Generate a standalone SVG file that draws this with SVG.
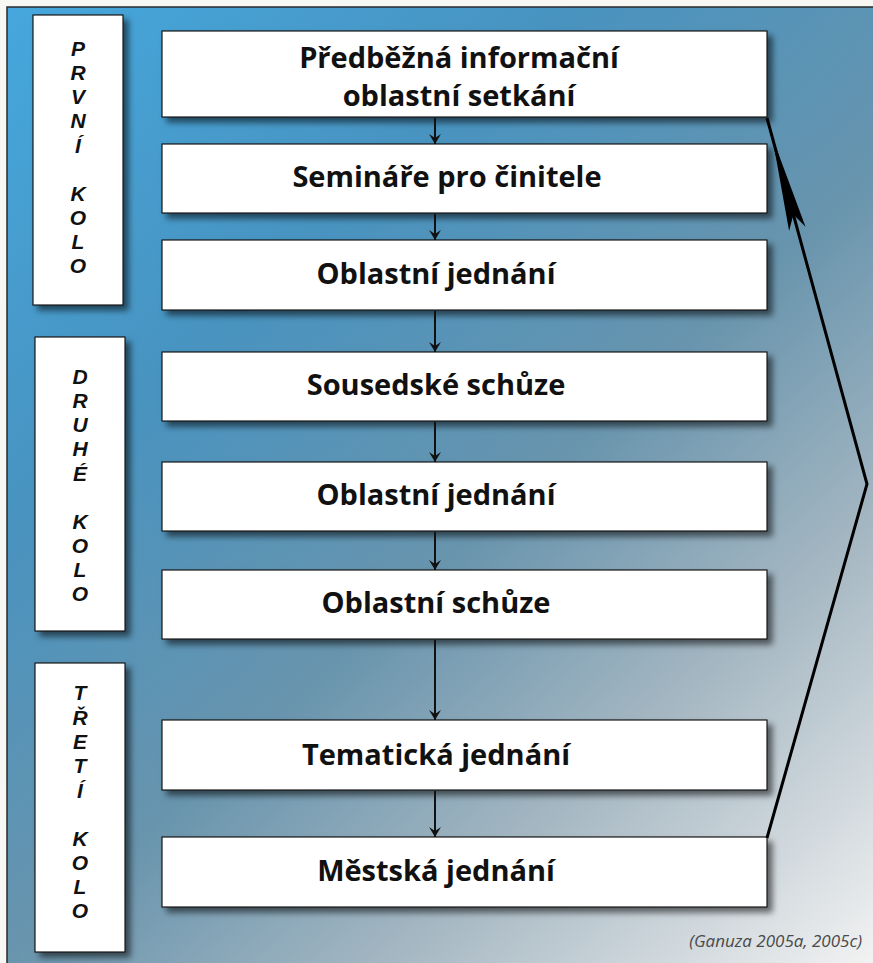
<svg xmlns="http://www.w3.org/2000/svg" width="873" height="963" viewBox="0 0 873 963">
  <defs>
    <linearGradient id="bg" gradientUnits="userSpaceOnUse" x1="0" y1="0" x2="873" y2="963">
      <stop offset="0" stop-color="#45a8de"/>
      <stop offset="0.3" stop-color="#4893c0"/>
      <stop offset="0.55" stop-color="#6894ad"/>
      <stop offset="0.75" stop-color="#a5b7c2"/>
      <stop offset="1" stop-color="#f2f2f2"/>
    </linearGradient>
    <filter id="shadow" x="-10%" y="-10%" width="130%" height="140%">
      <feDropShadow dx="5" dy="5" stdDeviation="3" flood-color="#000" flood-opacity="0.55"/>
    </filter>
    <marker id="arrv" markerUnits="userSpaceOnUse" markerWidth="12" markerHeight="14" refX="11" refY="7" orient="auto" viewBox="0 0 12 14">
      <path d="M1,1 L11,7 L1,13 L5,7 Z" fill="#111"/>
    </marker>
  </defs>
  <style>
    .box { fill: #ffffff; stroke: #1a1a1a; stroke-width: 1.2; filter: url(#shadow); }
    .main { font-family: "Open Sans", "Noto Sans", "DejaVu Sans", sans-serif; font-weight: bold; font-size: 29px; fill: #111; text-anchor: middle; }
    .side { font-family: "Liberation Sans", Arial, sans-serif; font-weight: bold; font-style: italic; font-size: 21px; fill: #111; text-anchor: middle; }
    .cite { font-family: "Open Sans", "Noto Sans", sans-serif; font-style: italic; font-size: 17px; fill: #4a4a4a; text-anchor: end; }
    .flow { stroke: #111; stroke-width: 2; fill: none; }
    .loop { stroke: #000; stroke-width: 3; fill: none; stroke-linejoin: miter; }
  </style>

  <rect x="0" y="0" width="873" height="963" fill="#f7f7f4"/>
  <rect id="frame" x="7" y="7" width="880" height="970" fill="url(#bg)" stroke="#2a2a2a" stroke-width="1.5"/>

  <g id="round1">
    <rect class="box" x="33" y="15" width="90" height="290"/>
    <text class="side" x="78" y="56">P</text>
    <text class="side" x="78" y="80">R</text>
    <text class="side" x="78" y="104">V</text>
    <text class="side" x="78" y="128">N</text>
    <text class="side" x="78" y="153">Í</text>
    <text class="side" x="78" y="201">K</text>
    <text class="side" x="78" y="225">O</text>
    <text class="side" x="78" y="249">L</text>
    <text class="side" x="78" y="273">O</text>
  </g>
  <g id="round2">
    <rect class="box" x="35" y="337" width="90" height="294"/>
    <text class="side" x="80" y="384">D</text>
    <text class="side" x="80" y="408">R</text>
    <text class="side" x="80" y="432">U</text>
    <text class="side" x="80" y="456">H</text>
    <text class="side" x="80" y="481">É</text>
    <text class="side" x="80" y="529">K</text>
    <text class="side" x="80" y="553">O</text>
    <text class="side" x="80" y="577">L</text>
    <text class="side" x="80" y="601">O</text>
  </g>
  <g id="round3">
    <rect class="box" x="35" y="663" width="90" height="289"/>
    <text class="side" x="80" y="700">T</text>
    <text class="side" x="80" y="725">Ř</text>
    <text class="side" x="80" y="749">E</text>
    <text class="side" x="80" y="773">T</text>
    <text class="side" x="80" y="798">Í</text>
    <text class="side" x="80" y="846">K</text>
    <text class="side" x="80" y="870">O</text>
    <text class="side" x="80" y="894">L</text>
    <text class="side" x="80" y="918">O</text>
  </g>

  <g id="n1">
    <rect class="box" x="162" y="31" width="605" height="86"/>
    <text class="main" x="459" y="68">Předběžná informační</text>
    <text class="main" x="459" y="106">oblastní setkání</text>
  </g>
  <g id="n2">
    <rect class="box" x="162" y="144" width="605" height="69"/>
    <text class="main" x="447" y="187">Semináře pro činitele</text>
  </g>
  <g id="n3">
    <rect class="box" x="162" y="240" width="605" height="70"/>
    <text class="main" x="436" y="284">Oblastní jednání</text>
  </g>
  <g id="n4">
    <rect class="box" x="162" y="352" width="605" height="69"/>
    <text class="main" x="436" y="395">Sousedské schůze</text>
  </g>
  <g id="n5">
    <rect class="box" x="162" y="462" width="605" height="69"/>
    <text class="main" x="436" y="505">Oblastní jednání</text>
  </g>
  <g id="n6">
    <rect class="box" x="162" y="570" width="605" height="69"/>
    <text class="main" x="436" y="613">Oblastní schůze</text>
  </g>
  <g id="n7">
    <rect class="box" x="162" y="720" width="605" height="70"/>
    <text class="main" x="436" y="765">Tematická jednání</text>
  </g>
  <g id="n8">
    <rect class="box" x="162" y="837" width="605" height="70"/>
    <text class="main" x="436" y="881">Městská jednání</text>
  </g>

  <g id="connectors">
    <line class="flow" x1="435" y1="118" x2="435" y2="144" marker-end="url(#arrv)"/>
    <line class="flow" x1="435" y1="214" x2="435" y2="240" marker-end="url(#arrv)"/>
    <line class="flow" x1="435" y1="311" x2="435" y2="352" marker-end="url(#arrv)"/>
    <line class="flow" x1="435" y1="422" x2="435" y2="462" marker-end="url(#arrv)"/>
    <line class="flow" x1="435" y1="532" x2="435" y2="570" marker-end="url(#arrv)"/>
    <line class="flow" x1="435" y1="640" x2="435" y2="720" marker-end="url(#arrv)"/>
    <line class="flow" x1="435" y1="791" x2="435" y2="837" marker-end="url(#arrv)"/>
    <polyline class="loop" points="767,838 867,484 767,118"/>
    <polygon points="772.3,137.3 789.1,231.1 793.4,214.5 805.5,226.7" fill="#000"/>
  </g>

  <text class="cite" x="862" y="947">(Ganuza 2005a, 2005c)</text>
</svg>
